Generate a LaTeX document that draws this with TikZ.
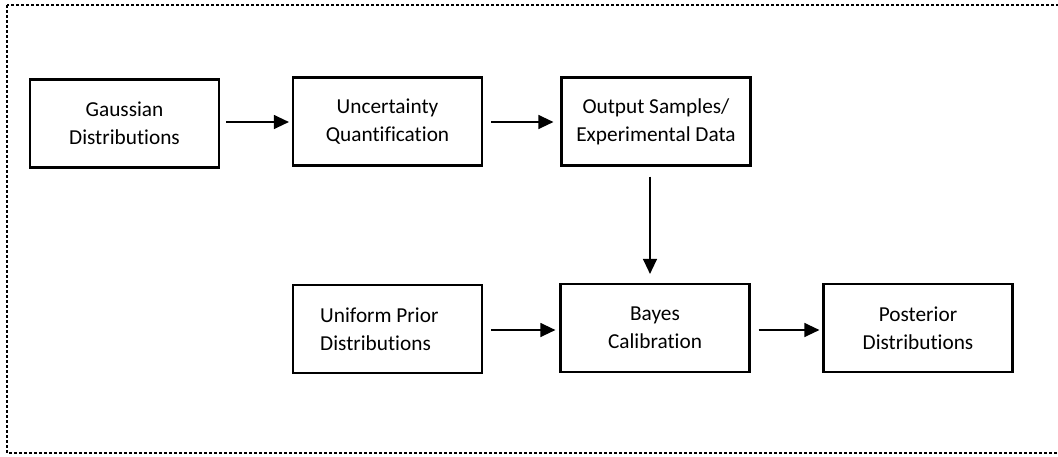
\documentclass[tikz,border=0pt]{standalone}
\usepackage{fontspec}
\setmainfont{Carlito}[Ligatures=NoCommon]
\usetikzlibrary{arrows.meta}
\begin{document}
\begin{tikzpicture}[x=1pt,y=-1pt,
  box/.style={draw=black,line width=2.2pt,rectangle,inner sep=0pt,
    minimum width=189pt,minimum height=88pt,align=center,
    font=\fontsize{21.3}{28}\selectfont},
  conn/.style={line width=1.3pt,-{Triangle[length=15pt,width=14pt]}}
]
\useasboundingbox (0,0) rectangle (1058,456);
\clip (0,0) rectangle (1058,456);
\draw[line width=2.6pt,dash pattern=on 2.6pt off 2.4pt] (7,5) rectangle (1075,453);

\node[box] (gauss) at (124.5,123.5) {Gaussian\\Distributions};
\node[box] (uq) at (387.5,121.5) {Uncertainty\\Quantification};
\node[box] (out) at (656,121.5) {Output Samples/\\Experimental Data};
\node[box] (prior) at (387.5,329) {};
\node[anchor=west,inner sep=0pt,align=left,font=\fontsize{21.3}{28}\selectfont] (priortext) at (320,329) {Uniform Prior\\Distributions};
\node[box] (bayes) at (655,328) {Bayes\\Calibration};
\node[box] (post) at (918,328) {Posterior\\Distributions};

\draw[conn,shorten <=6pt,shorten >=3pt] (gauss.east |- 0,122) -- (uq.west |- 0,122);
\draw[conn,shorten <=8pt,shorten >=7pt] (uq.east |- 0,122) -- (out.west |- 0,122);
\draw[conn,shorten <=10pt,shorten >=9pt] (out.south -| 650,0) -- (bayes.north -| 650,0);
\draw[conn,shorten <=8pt,shorten >=4pt] (prior.east |- 0,330) -- (bayes.west |- 0,330);
\draw[conn,shorten <=8pt,shorten >=3pt] (bayes.east |- 0,330) -- (post.west |- 0,330);
\end{tikzpicture}
\end{document}
